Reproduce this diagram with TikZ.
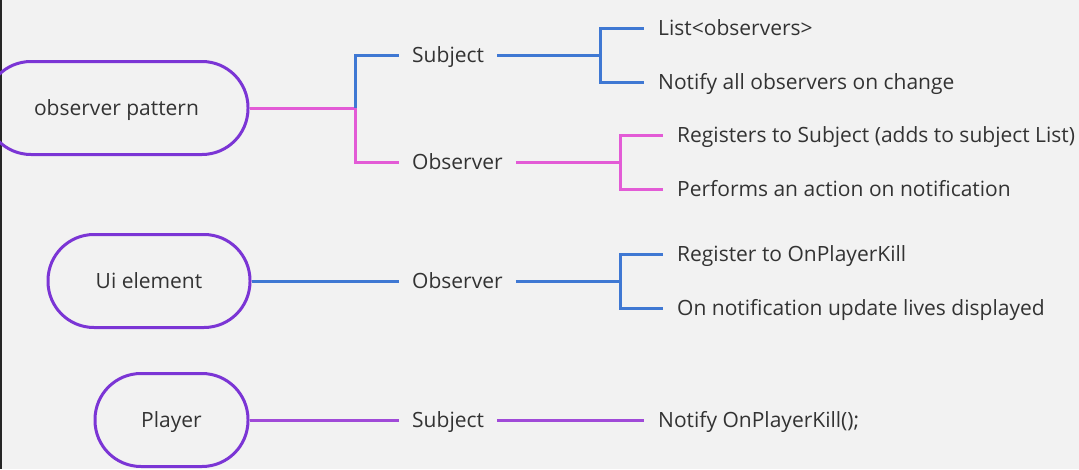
\documentclass[tikz,border=0pt]{standalone}
\usepackage{fontspec}
\setmainfont{Open Sans}
\definecolor{bg}{HTML}{F2F2F2}
\definecolor{pillc}{HTML}{7B35D5}
\definecolor{bluec}{HTML}{3F78D3}
\definecolor{pinkc}{HTML}{E35BD6}
\definecolor{violc}{HTML}{A04AD8}
\definecolor{txt}{HTML}{333333}
\begin{document}
\begin{tikzpicture}[x=1pt,y=-1pt,
  pill/.style={draw=pillc, line width=3pt, rounded corners=46pt, minimum height=93pt,
    text=txt, font=\fontsize{21}{24}\selectfont, inner sep=0pt, text height=18pt, text depth=4pt},
  mid/.style={anchor=west, inner xsep=13pt, inner ysep=0pt, text height=18pt, text depth=4pt,
    text=txt, font=\fontsize{21}{24}\selectfont},
  leaf/.style={anchor=west, inner xsep=14pt, inner ysep=0pt, text height=18pt, text depth=4pt,
    text=txt, font=\fontsize{21}{24}\selectfont},
  conn/.style={line width=3pt}
]
\useasboundingbox (0,0) rectangle (1079,469);
\clip (0,0) rectangle (1079,469);
\fill[bg] (0,0) rectangle (1079,469);
\fill[black!85] (0,0) rectangle (2,469);

% root nodes
\node[pill, minimum width=263pt] (op) at (116.5,108) {observer pattern};
\node[pill, minimum width=202pt] (ui) at (149,281) {Ui element};
\node[pill, minimum width=153pt] (pl) at (171.5,420) {Player};

% middle labels
\node[mid] (subj) at (399,55) {Subject};
\node[mid] (obs1) at (399,162) {Observer};
\node[mid] (obs2) at (399,281) {Observer};
\node[mid] (subj2) at (399,420) {Subject};

% leaves
\node[leaf] (l1) at (644,28) {List<observers>};
\node[leaf] (l2) at (644,82) {Notify all observers on change};
\node[leaf] (l3) at (663,135) {Registers to Subject (adds to subject List)};
\node[leaf] (l4) at (663,189) {Performs an action on notification};
\node[leaf] (l5) at (663,254) {Register to OnPlayerKill};
\node[leaf] (l6) at (663,308) {On notification update lives displayed};
\node[leaf] (l7) at (644,420) {Notify OnPlayerKill();};

% junctions
\coordinate (j1) at (355,108);
\coordinate (j2) at (600,55);
\coordinate (j3) at (620,162);
\coordinate (j4) at (620,281);

% connectors
\draw[conn, pinkc] (op.east) -- (j1);
\draw[conn, bluec] (j1) |- (subj.west);
\draw[conn, pinkc] (j1) |- (obs1.west);
\draw[conn, bluec] (subj.east) -- (j2);
\draw[conn, bluec] (j2) |- (l1.west);
\draw[conn, bluec] (j2) |- (l2.west);
\draw[conn, pinkc] (obs1.east) -- (j3);
\draw[conn, pinkc] (j3) |- (l3.west);
\draw[conn, pinkc] (j3) |- (l4.west);
\draw[conn, bluec] (ui.east) -- (obs2.west);
\draw[conn, bluec] (obs2.east) -- (j4);
\draw[conn, bluec] (j4) |- (l5.west);
\draw[conn, bluec] (j4) |- (l6.west);
\draw[conn, violc] (pl.east) -- (subj2.west);
\draw[conn, violc] (subj2.east) -- (l7.west);
\end{tikzpicture}
\end{document}
